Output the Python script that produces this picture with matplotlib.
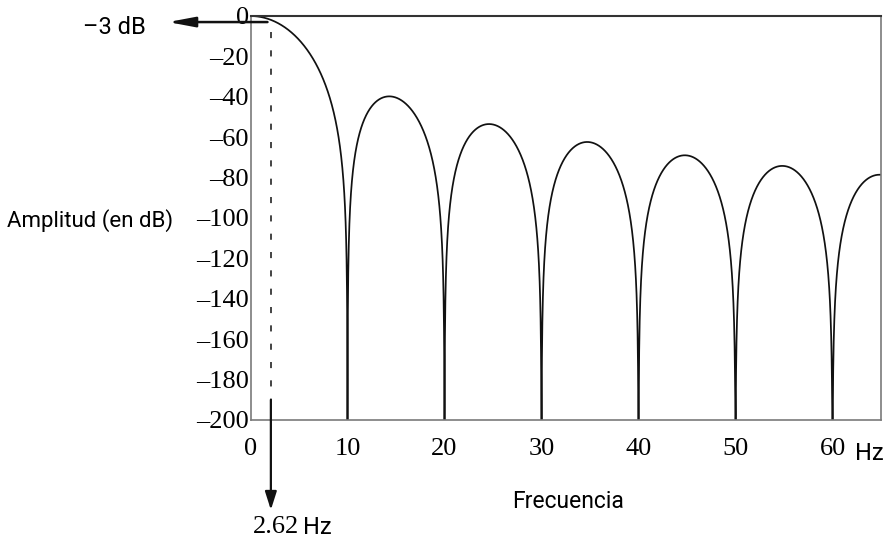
import numpy as np
import matplotlib
matplotlib.use("Agg")
import matplotlib.pyplot as plt

# ---- data / parameters of the plotted response ----
null_spacing_hz = 10.0          # zeros of the response every 10 Hz
filter_order = 3                # sinc^3 (three cascaded averages)
freq_max = 65.0
db_floor = -200.0
x_ticks = [0, 10, 20, 30, 40, 50, 60]
y_ticks = [0, -20, -40, -60, -80, -100, -120, -140, -160, -180, -200]
cutoff_label = "2.62"
cutoff_marker_hz = 2.1          # where the dashed marker is drawn in the figure
cutoff_db = -3.0

SANS = "Roboto"
SERIF = "Liberation Serif"

# frequency grid, with exact nulls included
f = np.linspace(0, freq_max, 6000)
nulls = np.arange(null_spacing_hz, freq_max, null_spacing_hz)
f = np.sort(np.concatenate([f, nulls]))
u = f / null_spacing_hz
mag = np.abs(np.sinc(u)) ** filter_order
with np.errstate(divide="ignore"):
    db = 20 * np.log10(mag)
db = np.clip(db, db_floor, 0)

W, H = 892, 542
fig = plt.figure(figsize=(W / 100, H / 100), dpi=100)
ax = fig.add_axes([250.5 / W, 1 - 420 / H, (881 - 250.5) / W, (420 - 16) / H])
ax.plot(f, db, color="#111111", lw=1.25)
ax.set_xlim(0, freq_max)
ax.set_ylim(db_floor, 0)
ax.set_xticks(x_ticks)
ax.set_yticks(y_ticks)
ax.set_xticklabels([str(v) for v in x_ticks], fontfamily=SERIF, fontsize=19)
ax.set_yticklabels([("\u2013" + str(-v)) if v < 0 else str(v) for v in y_ticks],
                   fontfamily=SERIF, fontsize=19)
ax.tick_params(axis="both", length=0)
ax.tick_params(axis="x", pad=13)
ax.tick_params(axis="y", pad=1)
for side in ["left", "bottom", "right"]:
    ax.spines[side].set_color("#7a7a7a")
    ax.spines[side].set_linewidth(1.2)
ax.spines["top"].set_color("#333333")
ax.spines["top"].set_linewidth(1.5)

def px(x, y):
    return x / W, 1 - y / H

# dashed cutoff marker
ax.plot([cutoff_marker_hz, cutoff_marker_hz], [-8, -190], color="#111111",
        lw=1.1, dashes=(4, 8), clip_on=False)
# vertical arrow down to the cutoff label
ax.annotate("", xy=(cutoff_marker_hz, -244.5), xytext=(cutoff_marker_hz, -190),
            xycoords="data", textcoords="data", annotation_clip=False,
            arrowprops=dict(arrowstyle="-|>,head_length=1.1,head_width=0.35",
                            color="#111111", lw=1.6, shrinkA=0, shrinkB=0))
# horizontal arrow to the -3 dB label
ax.annotate("", xy=(-8.5, cutoff_db), xytext=(1.75, cutoff_db),
            xycoords="data", textcoords="data", annotation_clip=False,
            arrowprops=dict(arrowstyle="-|>,head_length=1.6,head_width=0.3",
                            color="#111111", lw=1.8, shrinkA=0, shrinkB=0))

fig.text(*px(146, 28), "\u20133 dB", ha="right", va="center", fontfamily=SANS, fontsize=17)
fig.text(*px(173, 221), "Amplitud (en dB)", ha="right", va="center", fontfamily=SANS, fontsize=16)
fig.text(*px(568, 502), "Frecuencia", ha="center", va="center", fontfamily=SANS, fontsize=16.5)
fig.text(*px(855, 453), "Hz", ha="left", va="center", fontfamily=SANS, fontsize=17)
fig.text(*px(253, 527), cutoff_label, ha="left", va="center", fontfamily=SERIF, fontsize=19)
fig.text(*px(332, 527), "Hz", ha="right", va="center", fontfamily=SANS, fontsize=17)

fig.savefig("out.png", dpi=100)
